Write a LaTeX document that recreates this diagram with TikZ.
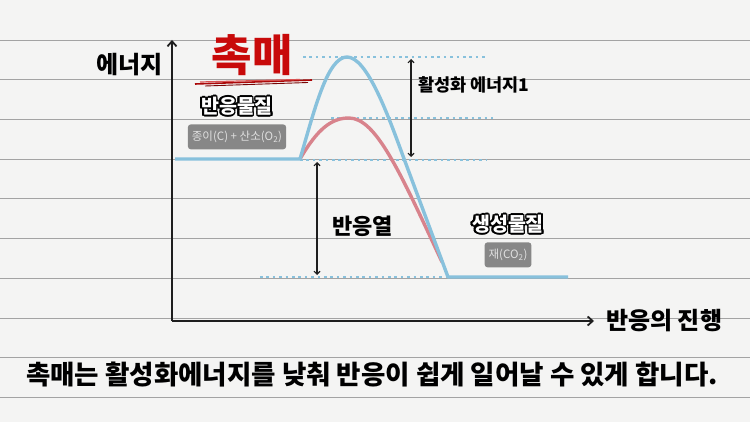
\documentclass[tikz,border=0pt]{standalone}
\usepackage{fontspec}
\setmainfont{Noto Sans CJK KR}
\usepackage{contour}
\contourlength{1.6pt}
\contournumber{16}
\usetikzlibrary{positioning,arrows.meta,calc}

\definecolor{paper}{HTML}{F4F4F3}
\definecolor{ruleline}{HTML}{A3A3A3}
\definecolor{curveblue}{HTML}{88C1DC}
\definecolor{curvered}{HTML}{D8838C}
\definecolor{catred}{HTML}{C80A0A}
\definecolor{tagfill}{HTML}{878787}
\definecolor{axisink}{HTML}{1E1E1E}

\begin{document}
\begin{tikzpicture}[
    x=1pt, y=-1pt,
    node distance=6pt and 8pt,
    axis/.style={-{Straight Barb[length=5pt,width=9pt]}, line width=1.8pt, axisink},
    gap/.style={{Straight Barb[length=3pt,width=6pt]}-{Straight Barb[length=3pt,width=6pt]},
                line width=1.1pt, axisink},
    guide/.style={curveblue, line width=2.4pt, dash pattern=on 2.6pt off 3.8pt},
    profile/.style={line width=3.4pt, line join=round},
    title/.style={font=\fontsize{24}{26}\selectfont\bfseries, text=black, inner sep=0pt},
    sticker/.style={font=\fontsize{19.5}{21}\selectfont\bfseries, text=white, inner sep=0pt},
    tag/.style={fill=tagfill, rounded corners=3pt, text=white!88!black,
                font=\fontsize{11.5}{13}\selectfont, inner xsep=4pt, inner ysep=0pt,
                minimum height=25pt}
]
\useasboundingbox (0,0) rectangle (750,422);

%% ── Paper ────────────────────────────────────────────────────────
\fill[paper] (0,0) rectangle (750,422);
\foreach \i in {0,...,9}
    \draw[ruleline, line width=0.7pt] (0,{40+39.7*\i}) -- (750,{40+39.7*\i});

%% ── Axes ─────────────────────────────────────────────────────────
\coordinate (origin) at (172,321);
\coordinate (ytip)   at (172,40);
\coordinate (xtip)   at (594,321);
\draw[axis] (origin) -- (ytip);
\draw[axis] (origin) -- (xtip);

\node[title, anchor=east] (energy) at (163,65) {에너지};
\node[title, right=12pt of xtip] (progress) {반응의 진행};

%% ── Energy levels ────────────────────────────────────────────────
\coordinate (start)    at (175,159);
\coordinate (rise)     at (300,159);
\coordinate (peakhi)   at (347,57);
\coordinate (peaklo)   at (349,118);
\coordinate (fall)     at (403,156);
\coordinate (merge)    at (442,262);
\coordinate (bottom)   at (448,277);
\coordinate (finish)   at (568,277);

\draw[guide] (303,57)  -- (487,57);
\draw[guide] (331,118) -- (493,118);
\draw[guide] (300,160) -- (487,160);
\draw[guide] (260,277) -- (446,277);

%% ── Curves ───────────────────────────────────────────────────────
\draw[profile, curvered] (rise) .. controls (318,128) and (332,118) .. (peaklo)
    .. controls (376,118) and (400,172) .. (merge);
\draw[profile, curveblue] (start) -- (rise) .. controls (314,112) and (327,57) .. (peakhi)
    .. controls (367,57) and (388,115) .. (fall) -- (bottom) -- (finish);

%% ── Gaps ─────────────────────────────────────────────────────────
\coordinate (actTop) at (411,59);
\coordinate (actBot) at (411,157);
\coordinate (heatTop) at (317,162);
\coordinate (heatBot) at (317,275);
\draw[gap] (actTop) -- (actBot);
\draw[gap] (heatTop) -- (heatBot);

\node[title, font=\fontsize{17.5}{19}\selectfont\bfseries, anchor=west] (actlbl) at (418,85) {활성화 에너지1};
\node[title, font=\fontsize{22}{24}\selectfont\bfseries, anchor=west] (heatlbl) at (332,226) {반응열};

%% ── Labels ───────────────────────────────────────────────────────
\node[title, font=\fontsize{44}{48}\selectfont\bfseries, text=catred] (catalyst) at (252,55) {촉매};
\draw[catred!85!black, line width=1.6pt] (195,84) -- (312,80);
\draw[catred!70, line width=1.2pt] (200,82) -- (300,79.5);
\draw[catred!60!black, line width=0.9pt] (205,86) -- (308,82.5);

\node[sticker] (reactant) at (237,107) {\contour{black}{반응물질}};
\node[tag, below=7pt of reactant] (reactantTag) {종이(C) + 산소(O\textsubscript{2})};

\node[sticker] (product) at (508,225) {\contour{black}{생성물질}};
\node[tag, below=7pt of product] (productTag) {재(CO\textsubscript{2})};

%% ── Caption ──────────────────────────────────────────────────────
\node[title, font=\fontsize{26.5}{28}\selectfont\bfseries] (caption) at (372,375)
    {촉매는 활성화에너지를 낮춰 반응이 쉽게 일어날 수 있게 합니다.};
\end{tikzpicture}
\end{document}
